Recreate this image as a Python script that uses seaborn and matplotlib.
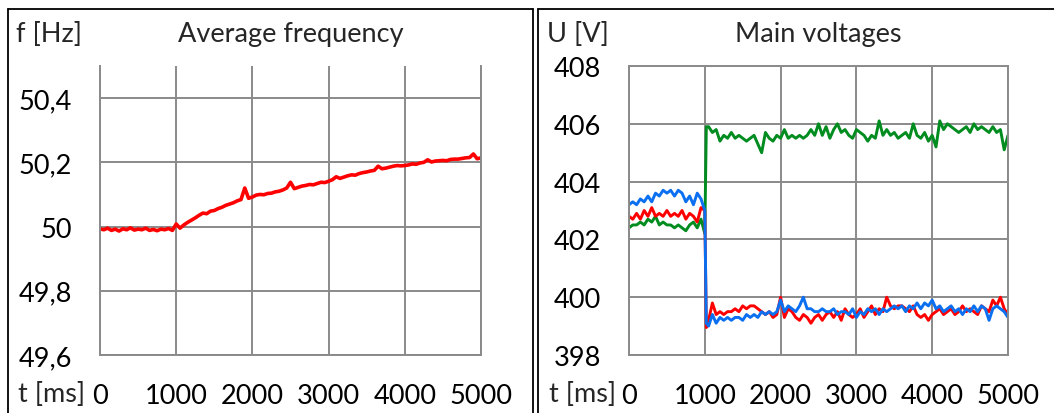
import matplotlib
matplotlib.use("Agg")
import matplotlib.pyplot as plt
from matplotlib.lines import Line2D
import seaborn as sns
import pandas as pd

# data

t_freq = list(range(0, 5001, 50))
freq = [
    49.993, 49.990, 49.995, 49.988, 49.992, 49.986, 49.993, 49.990, 49.996, 49.989,
    49.992, 49.990, 49.995, 49.988, 49.991, 49.987, 49.992, 49.990, 49.994, 49.988,
    50.008, 49.995, 50.005, 50.013, 50.020, 50.027, 50.035, 50.042, 50.040, 50.048,
    50.050, 50.056, 50.060, 50.066, 50.070, 50.074, 50.080, 50.084, 50.120, 50.088,
    50.092, 50.098, 50.100, 50.099, 50.103, 50.104, 50.108, 50.110, 50.114, 50.120,
    50.138, 50.118, 50.122, 50.126, 50.128, 50.131, 50.130, 50.134, 50.138, 50.137,
    50.141, 50.146, 50.155, 50.150, 50.154, 50.158, 50.161, 50.160, 50.165, 50.168,
    50.170, 50.173, 50.175, 50.188, 50.180, 50.182, 50.185, 50.188, 50.190, 50.189,
    50.190, 50.192, 50.195, 50.194, 50.198, 50.200, 50.208, 50.201, 50.204, 50.205,
    50.206, 50.205, 50.209, 50.210, 50.210, 50.212, 50.214, 50.215, 50.226, 50.211,
    50.214,
]

t_volt = [*range(0, 1001, 50), 1020, *range(1050, 5001, 50)]
u_green = [
    402.4, 402.5, 402.5, 402.6, 402.5, 402.7, 402.6, 402.8, 402.5, 402.6,
    402.5, 402.5, 402.4, 402.5, 402.4, 402.3, 402.5, 402.6, 402.4, 402.7, 402.2,
    405.9,
    405.9, 405.7, 405.8, 405.4, 405.6, 405.5, 405.7, 405.5, 405.6, 405.5,
    405.4, 405.5, 405.6, 405.3, 405.0, 405.7, 405.5, 405.4, 405.6, 405.5,
    405.8, 405.5, 405.6, 405.5, 405.6, 405.5, 405.6, 405.8, 405.6, 406.0,
    405.6, 405.9, 405.5, 405.8, 406.0, 405.7, 405.8, 405.6, 405.5, 405.8,
    405.7, 405.6, 405.4, 405.6, 405.5, 406.1, 405.6, 405.8, 405.6, 405.7,
    405.5, 405.6, 405.7, 405.5, 406.0, 405.6, 405.5, 405.7, 405.4, 405.6,
    405.2, 406.1, 405.8, 406.0, 405.9, 405.8, 405.7, 405.8, 405.9, 405.7,
    406.0, 405.8, 405.9, 405.8, 405.7, 405.9, 405.7, 405.8, 405.1, 405.6,
]
u_red = [
    402.8, 402.7, 402.9, 402.7, 403.0, 402.8, 403.1, 402.8, 402.9, 402.8,
    403.0, 402.8, 402.9, 402.8, 403.0, 402.7, 402.9, 402.8, 402.6, 403.1, 403.0,
    398.95,
    399.2, 399.8, 399.4, 399.5, 399.4, 399.5, 399.5, 399.6, 399.5, 399.7,
    399.6, 399.7, 399.7, 399.6, 399.5, 399.4, 399.5, 399.3, 399.4, 400.0,
    399.3, 399.6, 399.5, 399.3, 399.2, 399.4, 399.3, 399.1, 399.3, 399.4,
    399.2, 399.4, 399.5, 399.3, 399.5, 399.2, 399.6, 399.4, 399.3, 399.4,
    399.6, 399.3, 399.5, 399.7, 399.4, 399.6, 399.5, 400.0, 399.7, 399.6,
    399.7, 399.7, 399.6, 399.5, 399.7, 399.4, 399.3, 399.4, 399.2, 399.4,
    399.5, 399.6, 399.4, 399.5, 399.6, 399.4, 399.5, 399.7, 399.5, 399.6,
    399.5, 399.4, 399.7, 399.6, 399.5, 399.9, 399.7, 400.0, 399.6, 399.4,
]
u_blue = [
    403.2, 403.3, 403.2, 403.4, 403.3, 403.5, 403.3, 403.6, 403.5, 403.7,
    403.6, 403.7, 403.5, 403.7, 403.6, 403.3, 403.5, 403.2, 403.6, 403.4, 403.0,
    399.1,
    399.0, 399.4, 399.1, 399.3, 399.2, 399.3, 399.2, 399.3, 399.3, 399.2,
    399.4, 399.3, 399.4, 399.3, 399.5, 399.4, 399.5, 399.4, 399.5, 399.9,
    399.5, 399.7, 399.6, 399.5, 399.7, 400.0, 399.6, 399.6, 399.5, 399.5,
    399.6, 399.5, 399.5, 399.6, 399.4, 399.5, 399.5, 399.4, 399.6, 399.3,
    399.5, 399.4, 399.6, 399.5, 399.6, 399.4, 399.6, 399.5, 399.6, 399.7,
    399.6, 399.7, 399.5, 399.7, 399.6, 399.8, 399.6, 399.8, 399.7, 399.9,
    399.6, 399.7, 399.5, 399.6, 399.7, 399.5, 399.6, 399.4, 399.6, 399.5,
    399.7, 399.5, 399.7, 399.6, 399.2, 399.6, 399.7, 399.6, 399.5, 399.3,
]

x_ticks = [0, 1000, 2000, 3000, 4000, 5000]
f_ticks = [49.6, 49.8, 50.0, 50.2, 50.4]
f_tick_labels = ["49,6", "49,8", "50", "50,2", "50,4"]
u_ticks = [398, 400, 402, 404, 406, 408]

sns.set_theme(style="whitegrid")
plt.rcParams["font.family"] = ["Lato", "DejaVu Sans"]

GRID = "#8a8a8a"
FS = 19.5

df_f = pd.DataFrame({"t": t_freq, "f": freq})
df_u = pd.DataFrame({
    "t": t_volt * 3,
    "U": u_green + u_red + u_blue,
    "phase": ["L1"] * len(t_volt) + ["L2"] * len(t_volt) + ["L3"] * len(t_volt),
})

fig = plt.figure(figsize=(10.54, 4.14), dpi=100)
W, H = 1054, 414


def px_axes(x0, x1, y0, y1):
    return fig.add_axes([x0 / W, 1 - y1 / H, (x1 - x0) / W, (y1 - y0) / H])


ax1 = px_axes(100, 481, 67, 356)
ax2 = px_axes(629, 1008, 67, 356)

sns.lineplot(data=df_f, x="t", y="f", color="#ff0000", lw=2.6, ax=ax1)
sns.lineplot(data=df_u, x="t", y="U", hue="phase",
             palette=["#008c1e", "#ff0000", "#0a6ff0"], lw=2.1,
             legend=False, ax=ax2)

ax1.set_ylim(49.6, 50.5)
ax1.set_yticks(f_ticks)
ax1.set_yticklabels(f_tick_labels)
ax2.set_ylim(398, 408)
ax2.set_yticks(u_ticks)
ax2.set_yticklabels([str(v) for v in u_ticks])

for ax in (ax1, ax2):
    ax.set_xlim(0, 5000)
    ax.set_xticks(x_ticks)
    ax.set_xticklabels([str(v) for v in x_ticks])
    ax.set_xlabel("")
    ax.set_ylabel("")
    ax.grid(True, color=GRID, lw=1.4)
    ax.tick_params(axis="both", length=0, labelsize=FS, colors="black")
    ax.tick_params(axis="y", pad=20)
    ax.tick_params(axis="x", pad=20)
    for side in ("left", "bottom", "right", "top"):
        ax.spines[side].set_color(GRID)
        ax.spines[side].set_linewidth(1.4)
    ax.set_facecolor("white")
ax1.spines["top"].set_visible(False)

ax1.set_title("Average frequency", fontsize=FS, pad=18)
ax2.set_title("Main voltages", fontsize=FS, pad=18)

fig.text(16 / W, 1 - 42 / H, "f [Hz]", fontsize=FS, va="baseline")
fig.text(18 / W, 1 - 402 / H, "t [ms]", fontsize=FS, va="baseline")
fig.text(547 / W, 1 - 42 / H, "U [V]", fontsize=FS, va="baseline")
fig.text(549 / W, 1 - 402 / H, "t [ms]", fontsize=FS, va="baseline")

# panel frames
frame = dict(color="black", lw=1.3, transform=fig.transFigure)
for xs, ys in [
    ([8, 8], [10, 420]), ([8, 533], [10, 10]), ([533, 533], [10, 420]),
    ([538, 538], [10, 420]), ([538, 1060], [10, 10]),
]:
    fig.add_artist(Line2D([x / W for x in xs], [1 - y / H for y in ys], **frame))

fig.savefig("out.png", dpi=100)
